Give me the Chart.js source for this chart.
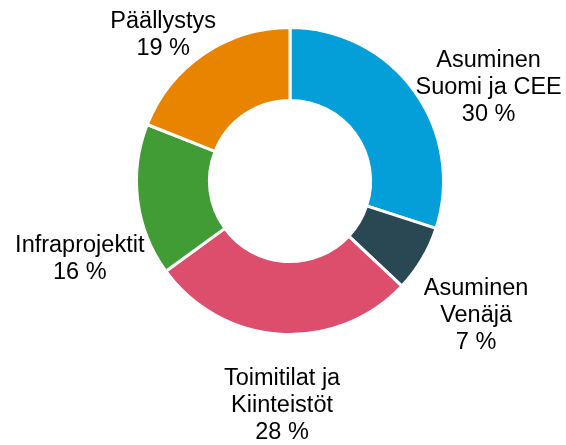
<!DOCTYPE html>
<html>
<head>
<meta charset="utf-8">
<script src="https://cdn.jsdelivr.net/npm/chart.js@4"></script>
<style>
  html, body { margin: 0; padding: 0; background: #fff; }
  #wrap { width: 566px; height: 445px; position: relative; }
</style>
</head>
<body>
<div id="wrap"><canvas id="chart"></canvas></div>
<script>
// segment labels (one entry per line) and shares in %
const labels = [
    ['Asuminen', 'Suomi ja CEE'],
    ['Asuminen', 'Venäjä'],
    ['Toimitilat ja', 'Kiinteistöt'],
    ['Infraprojektit'],
    ['Päällystys']
];
const shares = [30, 7, 28, 16, 19];
const colors = ['#049fd9', '#2a4754', '#dc4e6c', '#429c35', '#e88400'];

// small nudges so labels land where the original put them
const labelNudge = [[19, 35], [-5, 20], [6, 1], [10, 49], [-2, 36]];

const outsideLabels = {
    id: 'outsideLabels',
    afterDatasetsDraw(chart) {
        const ctx = chart.ctx;
        const meta = chart.getDatasetMeta(0);
        ctx.save();
        ctx.font = '23.5px "Liberation Sans", Arial, sans-serif';
        ctx.fillStyle = '#000';
        ctx.textAlign = 'center';
        ctx.textBaseline = 'alphabetic';
        const lh = 27;
        meta.data.forEach((arc, i) => {
            const p = arc.getProps(['x', 'y', 'startAngle', 'endAngle', 'outerRadius'], true);
            const mid = (p.startAngle + p.endAngle) / 2;
            const d = 222;
            const cx = p.x + Math.cos(mid) * d + labelNudge[i][0];
            const cy = p.y + Math.sin(mid) * d + labelNudge[i][1];
            const lines = labels[i].concat([shares[i] + ' %']);
            lines.forEach((t, j) => {
                const by = cy + (j - (lines.length - 1) / 2) * lh + 8;
                ctx.fillText(t, cx, by);
            });
        });
        ctx.restore();
    }
};

new Chart(document.getElementById('chart'), {
    type: 'doughnut',
    data: {
        labels: labels.map(l => l.join(' ')),
        datasets: [{
            data: shares,
            backgroundColor: colors,
            borderColor: '#ffffff',
            borderWidth: 3,
            hoverOffset: 0
        }]
    },
    options: {
        responsive: true,
        maintainAspectRatio: false,
        animation: false,
        cutout: '52.5%',
        layout: { padding: { left: 135, right: 121, top: 26, bottom: 109 } },
        plugins: {
            legend: { display: false },
            tooltip: { enabled: false }
        }
    },
    plugins: [outsideLabels]
});
</script>
</body>
</html>
